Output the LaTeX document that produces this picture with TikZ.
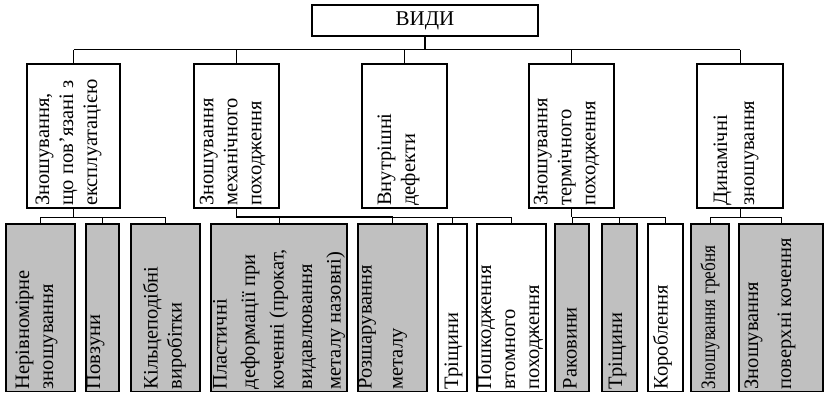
\documentclass[tikz,border=0pt]{standalone}
\usepackage{fontspec}
\setmainfont{Liberation Serif}
\definecolor{boxgray}{HTML}{C0C0C0}
\newcommand{\mkbox}[6]{%
  \node[#6, minimum width={(#4)-(#2)}, minimum height={(#5)-(#3)}] (#1) at ({((#2)+(#4))/2},{((#3)+(#5))/2}) {};}
\begin{document}
\begin{tikzpicture}[x=1pt,y=-1pt,
  box/.style={draw, line width=1.6pt, inner sep=0pt, outer sep=0pt},
  gbox/.style={box, fill=boxgray},
  vt/.style={rotate=90, anchor=west, align=left, inner sep=0pt, font=\fontsize{20.5}{24}\selectfont},
  conn/.style={line width=1pt},
  thickconn/.style={line width=1.8pt}]
\useasboundingbox (0,0) rectangle (824,393);
% top
\mkbox{T}{312}{5}{538}{36}{box}
\node[font=\fontsize{21}{24}\selectfont, inner sep=0pt] (Tt) at (T.center) {ВИДИ};
% level 1
\mkbox{B1}{27}{64}{120}{208}{box}
\mkbox{B2}{194}{64}{279}{208}{box}
\mkbox{B3}{362}{64}{447}{208}{box}
\mkbox{B4}{529}{64}{614}{208}{box}
\mkbox{B5}{697}{64}{783}{208}{box}
\node[vt] (B1t) at ([xshift=-5pt, yshift=2pt]B1.south) {Зношування,\\що пов’язані з\\експлуатацією};
\node[vt] (B2t) at ([xshift=-4pt, yshift=2pt]B2.south) {Зношування\\механічного\\походження};
\node[vt] (B3t) at ([xshift=-6pt, yshift=2pt]B3.south) {Внутрішні\\дефекти};
\node[vt] (B4t) at ([xshift=-5pt, yshift=2pt]B4.south) {Зношування\\термічного\\походження};
\node[vt, font=\fontsize{20.5}{27}\selectfont] (B5t) at ([xshift=-4pt, yshift=2pt]B5.south) {Динамічні\\зношування};
% level 2
\mkbox{a}{6}{224}{75}{391.5}{gbox}
\mkbox{b}{86}{224}{119}{391.5}{gbox}
\mkbox{c}{131}{224}{200}{391.5}{gbox}
\mkbox{d}{211}{224}{347}{391.5}{gbox}
\mkbox{e}{358}{224}{427}{391.5}{gbox}
\mkbox{f}{438}{224}{467}{391.5}{box}
\mkbox{g}{477}{224}{546}{391.5}{box}
\mkbox{h}{555}{224}{589}{391.5}{gbox}
\mkbox{i}{602}{224}{637}{391.5}{gbox}
\mkbox{j}{648}{224}{683}{391.5}{box}
\mkbox{k}{691}{224}{729}{391.5}{gbox}
\mkbox{l}{739}{224}{823}{391.5}{gbox}
\node[vt] (at) at ([xshift=-4pt, yshift=2pt]a.south) {Нерівномірне\\зношування};
\node[vt] (bt) at ([xshift=-7pt, yshift=2pt]b.south) {Повзуни};
\node[vt] (ct) at ([xshift=-1pt, yshift=2pt]c.south) {Кільцеподібні\\виробітки};
\node[vt, font=\fontsize{20.5}{28.5}\selectfont] (dt) at ([yshift=2pt]d.south) {Пластичні\\деформації при\\коченні (прокат,\\видавлювання\\металу назовні)};
\node[vt, font=\fontsize{20.5}{31}\selectfont] (et) at ([xshift=-10pt, yshift=2pt]e.south) {Розшарування\\металу};
\node[vt] (ft) at ([xshift=1pt, yshift=2pt]f.south) {Тріщини};
\node[vt] (gt) at ([xshift=-1pt, yshift=2pt]g.south) {Пошкодження\\втомного\\походження};
\node[vt] (ht) at ([xshift=-2pt, yshift=2pt]h.south) {Раковини};
\node[vt] (it) at ([xshift=-2pt, yshift=2pt]i.south) {Тріщини};
\node[vt] (jt) at ([xshift=-3pt, yshift=2pt]j.south) {Короблення};
\node[vt] (kt) at ([yshift=2pt]k.south) {\scalebox{0.84}[1]{Зношування гребня}};
\node[vt, font=\fontsize{20.5}{33}\selectfont] (lt) at ([xshift=-11pt, yshift=2pt]l.south) {Зношування\\поверхні кочення};
% top connectors
\coordinate (top) at (425,50);
\draw[thickconn] (T.south) -- (T.south |- top);
\draw[conn] (B1.north |- top) -- (B5.north |- top);
\foreach \n in {B1,B2,B3,B4,B5} \draw[conn] (\n.north |- top) -- (\n.north);
% level-2 connectors
\coordinate (lv) at (0,217);
\draw[conn] (B1.south) -- (B1.south |- lv);
\draw[conn] (a.north |- lv) -- (c.north |- lv);
\foreach \n in {a,b,c} \draw[conn] (\n.north |- lv) -- (\n.north);
\draw[thickconn] (B2.south) -- (B2.south |- lv) -- (e.north |- lv);
\draw[conn] (e.north |- lv) -- (g.north |- lv);
\foreach \n in {d,e,f,g} \draw[conn] (\n.north |- lv) -- (\n.north);
\draw[conn] (B4.south) -- (B4.south |- lv);
\draw[conn] (h.north |- lv) -- (j.north |- lv);
\foreach \n in {h,i,j} \draw[conn] (\n.north |- lv) -- (\n.north);
\draw[conn] (B5.south) -- (B5.south |- lv);
\draw[conn] (k.north |- lv) -- (l.north |- lv);
\foreach \n in {k,l} \draw[conn] (\n.north |- lv) -- (\n.north);
\end{tikzpicture}
\end{document}
